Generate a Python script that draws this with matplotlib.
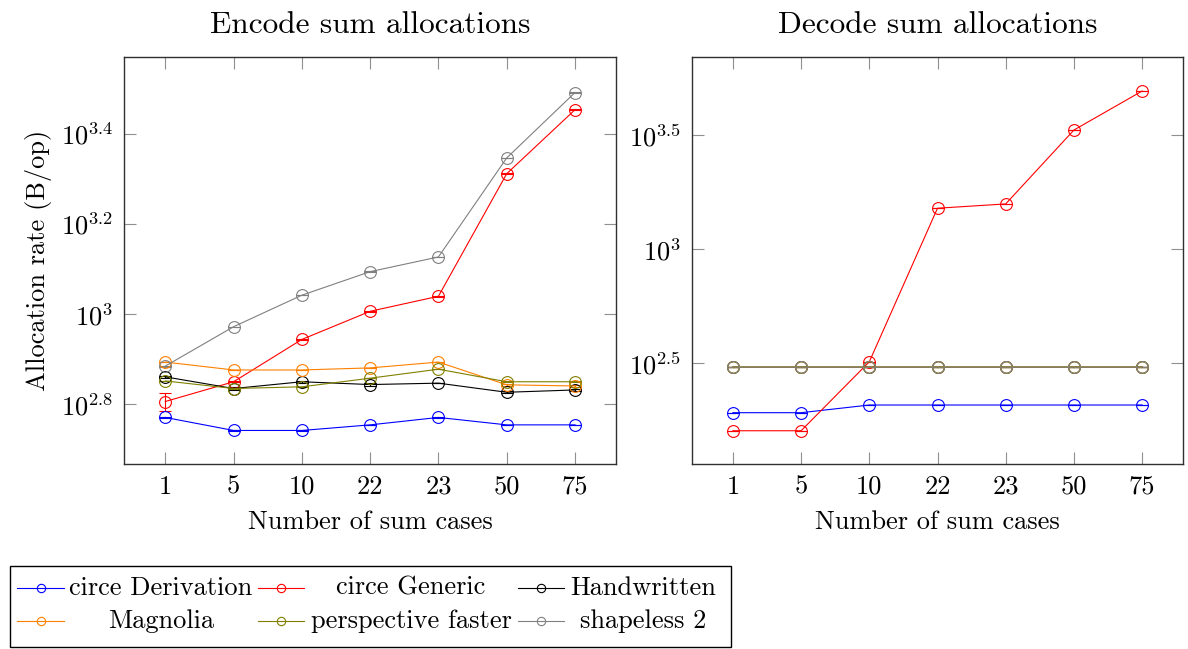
import numpy as np
import matplotlib
matplotlib.use("Agg")
import matplotlib.pyplot as plt
from matplotlib.lines import Line2D
from matplotlib.patches import Rectangle
from matplotlib.ticker import FixedLocator, NullLocator

plt.rcParams["font.family"] = "cmr10"
plt.rcParams["mathtext.fontset"] = "cm"
plt.rcParams["axes.formatter.use_mathtext"] = True

W, H = 1188, 649

CASES = ["1", "5", "10", "22", "23", "50", "75"]
SERIES = ["circe Derivation", "circe Generic", "Handwritten",
          "Magnolia", "perspective faster", "shapeless 2"]
COLORS = ["#0000ff", "#ff0000", "#000000", "#ff8000", "#808000", "#808080"]

# encode allocation rate, B/op
enc_circe_derivation = [590, 552, 552, 568, 590, 568, 568]
enc_circe_generic = [640, 708, 879, 1015, 1096, 2051, 2844]
enc_handwritten = [726, 684, 708, 698, 703, 671, 679]
enc_magnolia = [783, 752, 752, 760, 783, 697, 693]
enc_perspective = [711, 684, 690, 721, 755, 708, 708]
enc_shapeless = [767, 938, 1102, 1243, 1340, 2223, 3105]

enc_err_circe_derivation = [1, 1, 1, 1, 1, 1, 1]
enc_err_circe_generic = [30, 2, 2, 2, 2, 4, 6]
enc_err_handwritten = [4, 6, 4, 6, 1, 3, 3]
enc_err_magnolia = [1, 1, 1, 1, 1, 3, 2]
enc_err_perspective = [1, 1, 1, 1, 1, 1, 1]
enc_err_shapeless = [2, 1, 1, 1, 2, 4, 6]

# decode allocation rate, B/op
dec_circe_derivation = [192, 192, 207.5, 207.5, 207.5, 207.5, 207.5]
dec_circe_generic = [160, 160, 321, 1514, 1581, 3334, 4943]
dec_handwritten = [304, 304, 304, 304, 304, 304, 304]
dec_magnolia = [304, 304, 304, 304, 304, 304, 304]
dec_perspective = [304, 304, 304, 304, 304, 304, 304]
dec_shapeless = [304, 304, 304, 304, 304, 304, 304]

dec_err = [0.3, 0.3, 0.3, 0.3, 0.3, 0.3, 0.3]

ENC_TICKS = [2.8, 3.0, 3.2, 3.4]
ENC_TICKLABELS = [r"$10^{2.8}$", r"$10^{3}$", r"$10^{3.2}$", r"$10^{3.4}$"]
DEC_TICKS = [2.5, 3.0, 3.5]
DEC_TICKLABELS = [r"$10^{2.5}$", r"$10^{3}$", r"$10^{3.5}$"]


def px_box(x0, y0, x1, y1):
    """Pixel box (top-left origin) -> figure fraction rect."""
    return [x0 / W, 1 - y1 / H, (x1 - x0) / W, (y1 - y0) / H]


def draw_panel(ax, values, errors, ylog, ticks, ticklabels, title):
    x = np.arange(len(CASES))
    for vals, errs, color in zip(values, errors, COLORS):
        line = ax.errorbar(x, vals, yerr=errs, color=color, lw=0.8,
                           marker="o", ms=8.5, mfc="none", mec=color, mew=0.8,
                           capsize=4, capthick=0.8, elinewidth=0.8)
        line[0].set_snap(False)
    ax.set_yscale("log")
    ax.set_ylim(10 ** ylog[0], 10 ** ylog[1])
    ax.yaxis.set_major_locator(FixedLocator([10 ** t for t in ticks]))
    ax.yaxis.set_minor_locator(NullLocator())
    ax.set_yticklabels(ticklabels)
    ax.set_xlim(-0.6, len(CASES) - 0.4)
    ax.set_xticks(x)
    ax.set_xticklabels(CASES)
    ax.tick_params(direction="in", length=8.5, width=0.8, color="#909090",
                   top=True, right=True, labelsize=19)
    ax.tick_params(axis="x", pad=8)
    ax.tick_params(axis="y", pad=8)
    for sp in ax.spines.values():
        sp.set_linewidth(1.0)
        sp.set_color("#303030")
    ax.set_title(title, fontsize=22.5, pad=17)
    ax.set_xlabel("Number of sum cases", fontsize=19, labelpad=8)


fig = plt.figure(figsize=(W / 100, H / 100), dpi=100)
ax_enc = fig.add_axes(px_box(124.3, 56.7, 616, 464))
ax_dec = fig.add_axes(px_box(692, 56.7, 1183, 464))

draw_panel(ax_enc,
           [enc_circe_derivation, enc_circe_generic, enc_handwritten,
            enc_magnolia, enc_perspective, enc_shapeless],
           [enc_err_circe_derivation, enc_err_circe_generic, enc_err_handwritten,
            enc_err_magnolia, enc_err_perspective, enc_err_shapeless],
           (2.6675, 3.5716), ENC_TICKS, ENC_TICKLABELS, "Encode sum allocations")
draw_panel(ax_dec,
           [dec_circe_derivation, dec_circe_generic, dec_handwritten,
            dec_magnolia, dec_perspective, dec_shapeless],
           [dec_err] * 6,
           (2.0583, 3.8447), DEC_TICKS, DEC_TICKLABELS, "Decode sum allocations")
ax_enc.set_ylabel("Allocation rate (B/op)", fontsize=19, labelpad=6)

# legend laid out as a 3-column table with centred labels
fig.add_artist(Rectangle((10 / W, 1 - 647 / H), 721 / W, 81 / H,
                         transform=fig.transFigure, fill=False,
                         edgecolor="black", linewidth=1.0))
handle_x = [(17, 64), (258, 304), (518, 564)]
text_x = [161, 411, 643]
row_y = [588, 621]
for i, (name, color) in enumerate(zip(SERIES, COLORS)):
    row, col = divmod(i, 3)
    hx0, hx1 = handle_x[col]
    y = 1 - row_y[row] / H
    fig.add_artist(Line2D([hx0 / W, hx1 / W], [y, y], transform=fig.transFigure,
                          color=color, lw=0.8))
    fig.add_artist(Line2D([(hx0 + hx1) / 2 / W], [y], transform=fig.transFigure,
                          color=color, marker="o", ms=6, mfc="none", mew=0.8))
    fig.text(text_x[col] / W, y, name, ha="center", va="center", fontsize=19)

fig.savefig("out.png", dpi=100)
